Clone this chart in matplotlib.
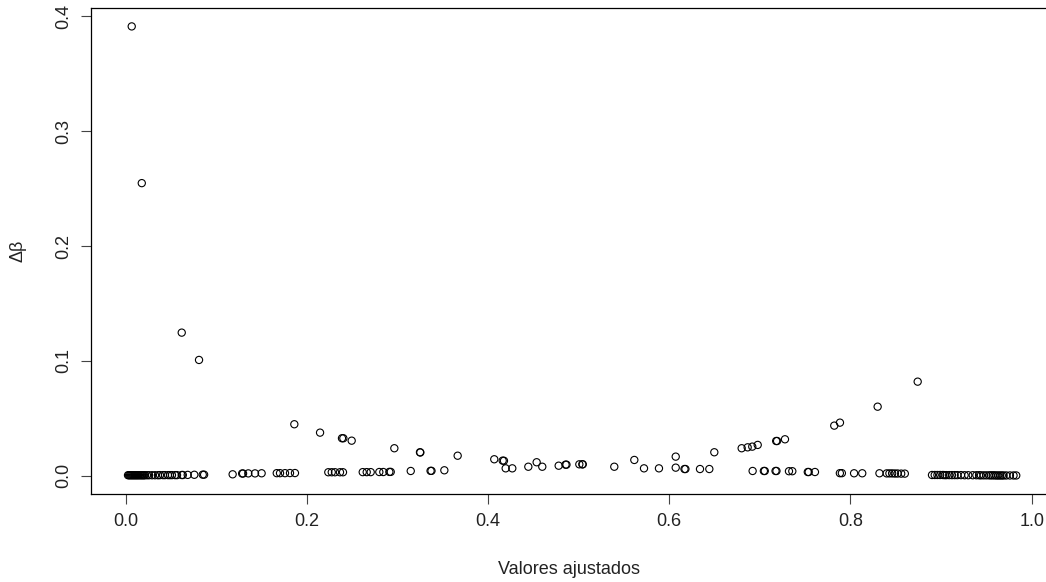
import matplotlib
matplotlib.use('Agg')
from matplotlib import pyplot as plt

# fitted values and the matching delta-beta influence values
x_low = [0.0025, 0.0036, 0.0047, 0.0058, 0.0069, 0.008, 0.0091, 0.0102, 0.0113,
         0.0124, 0.0135, 0.0146, 0.0158, 0.0169, 0.018, 0.0191, 0.0202, 0.0213,
         0.0235, 0.0257, 0.029, 0.0323, 0.0356, 0.0378, 0.0411, 0.0433, 0.0466,
         0.0488, 0.051, 0.0544, 0.0566, 0.0618, 0.063, 0.0684, 0.0757, 0.085,
         0.0865, 0.118, 0.1285, 0.1295, 0.1353, 0.1427, 0.150, 0.1667, 0.1703,
         0.1758, 0.1813, 0.1868, 0.2236, 0.2274, 0.231, 0.2365, 0.2398, 0.2616,
         0.266, 0.2704, 0.2799, 0.2843, 0.291, 0.2925, 0.3146, 0.3365, 0.3375,
         0.3517]
y_low = [0.0004, 0.0004, 0.0004, 0.0004, 0.0004, 0.0004, 0.0004, 0.0004, 0.0004,
         0.0004, 0.0004, 0.0004, 0.0004, 0.0004, 0.0004, 0.0004, 0.0004, 0.0004,
         0.0004, 0.0004, 0.0004, 0.0004, 0.0004, 0.0005, 0.0005, 0.0005, 0.0005,
         0.0005, 0.0005, 0.0005, 0.0005, 0.0006, 0.0006, 0.0007, 0.0008, 0.0009,
         0.0009, 0.0012, 0.0019, 0.0019, 0.002, 0.002, 0.0021, 0.0022, 0.0022,
         0.0022, 0.0023, 0.0023, 0.003, 0.003, 0.003, 0.003, 0.003, 0.0031,
         0.0031, 0.0031, 0.0032, 0.0032, 0.0033, 0.0033, 0.0041, 0.0042, 0.0042,
         0.0047]

x_mid = [0.1861, 0.2145, 0.2387, 0.2402, 0.2494, 0.2965, 0.3248, 0.3252, 0.3664,
         0.4068, 0.4161, 0.4175, 0.4194, 0.4267, 0.4444, 0.4536, 0.4598, 0.4779,
         0.4855, 0.4865, 0.5007, 0.504, 0.5045, 0.5393, 0.5614, 0.5721, 0.5886,
         0.6071, 0.6071, 0.6168, 0.6178, 0.6339, 0.6442, 0.6497, 0.6799, 0.6865,
         0.6916, 0.6976, 0.718, 0.719, 0.7277]
y_mid = [0.0448, 0.0375, 0.0326, 0.0326, 0.0305, 0.0239, 0.0204, 0.0202, 0.0174,
         0.0143, 0.0131, 0.013, 0.0064, 0.0064, 0.0078, 0.0117, 0.0078, 0.0087,
         0.0096, 0.0096, 0.0099, 0.0099, 0.0099, 0.0078, 0.0137, 0.0064, 0.0064,
         0.0166, 0.007, 0.0058, 0.0058, 0.0058, 0.0058, 0.0204, 0.0239, 0.0247,
         0.0253, 0.0268, 0.0302, 0.0302, 0.0317]

x_high = [0.692, 0.7044, 0.7054, 0.7173, 0.7183, 0.7321, 0.7358, 0.7529, 0.7539,
          0.7608, 0.7821, 0.7884, 0.83, 0.8742, 0.7883, 0.7905, 0.804, 0.813,
          0.832, 0.84, 0.843, 0.846, 0.849, 0.852, 0.856, 0.86, 0.89, 0.893,
          0.896, 0.899, 0.902, 0.904, 0.906, 0.909, 0.912, 0.915, 0.918, 0.922,
          0.926, 0.93, 0.935, 0.939, 0.942, 0.944, 0.947, 0.95, 0.953, 0.955,
          0.957, 0.959, 0.961, 0.963, 0.965, 0.967, 0.969, 0.972, 0.976, 0.98,
          0.983]
y_high = [0.0041, 0.0041, 0.0041, 0.0041, 0.0041, 0.0039, 0.0039, 0.0032, 0.0032,
          0.0032, 0.0436, 0.0462, 0.0601, 0.0819, 0.0022, 0.0022, 0.0021, 0.0021,
          0.0021, 0.002, 0.002, 0.002, 0.0019, 0.0019, 0.0018, 0.0018, 0.0006,
          0.0006, 0.0006, 0.0006, 0.0006, 0.0005, 0.0005, 0.0005, 0.0005, 0.0005,
          0.0005, 0.0005, 0.0004, 0.0004, 0.0004, 0.0004, 0.0004, 0.0003, 0.0003,
          0.0003, 0.0003, 0.0003, 0.0003, 0.0003, 0.0002, 0.0002, 0.0002, 0.0002,
          0.0002, 0.0002, 0.0002, 0.0002, 0.0002]

x_top = [0.0066, 0.0177, 0.0618, 0.0809]
y_top = [0.3913, 0.2548, 0.1246, 0.1008]

y_ticks = [0.0, 0.1, 0.2, 0.3, 0.4]
x_ticks = [0.0, 0.2, 0.4, 0.6, 0.8, 1.0]

plt.rcParams['font.family'] = ['Liberation Sans', 'DejaVu Sans']

fig = plt.figure(figsize=(10.46, 5.82), dpi=100)
ax = fig.add_axes([0.0873, 0.1517, 0.9137, 0.8339])

xs = x_top + x_low + x_mid + x_high
ys = y_top + y_low + y_mid + y_high
ax.scatter(xs, ys, s=27, facecolors='none', edgecolors='black',
           linewidths=0.8)

ax.set_xlim(-0.038, 1.017)
ax.set_ylim(-0.0157, 0.407)

ax.set_xticks(x_ticks)
ax.set_xticklabels(['%.1f' % t for t in x_ticks])
ax.set_yticks(y_ticks)
ax.set_yticklabels(['%.1f' % t for t in y_ticks], rotation=90, va='center')

ax.tick_params(direction='out', length=7.5, width=0.8, color='#444444',
               labelsize=13, labelcolor='#222222')
ax.tick_params(axis='x', pad=6.5)
ax.tick_params(axis='y', pad=6)

for sp in ax.spines.values():
    sp.set_linewidth(0.9)
    sp.set_color('black')

ax.set_xlabel('Valores ajustados', fontsize=13, color='#222222', labelpad=22)
ax.set_ylabel('Δβ', fontsize=13, color='#222222', labelpad=21)

fig.savefig('out.png', dpi=100)
